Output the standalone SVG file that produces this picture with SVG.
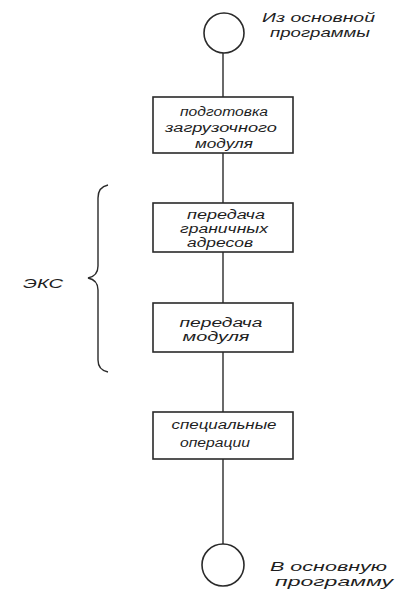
<svg xmlns="http://www.w3.org/2000/svg" width="404" height="594" viewBox="0 0 404 594">
<style>
.n{fill:#fff;stroke:#2a2a2a;stroke-width:1.6}
.c{fill:none;stroke:#2a2a2a;stroke-width:1.4}
.t{font-family:"Liberation Sans",Arial,sans-serif;font-style:italic;font-size:12px;fill:#1e1e1e;text-anchor:middle}
.l{font-family:"Liberation Sans",Arial,sans-serif;font-style:italic;font-size:13px;fill:#1e1e1e}
</style>
<rect width="404" height="594" fill="#fff"/>
<g id="connectors">
<line class="c" x1="223" y1="53" x2="223" y2="97"/>
<line class="c" x1="223" y1="153" x2="223" y2="203"/>
<line class="c" x1="223" y1="252" x2="223" y2="303"/>
<line class="c" x1="223" y1="352" x2="223" y2="412"/>
<line class="c" x1="223" y1="459" x2="223" y2="544"/>
</g>
<g id="start">
<circle class="n" cx="224" cy="33" r="20"/>
<text class="l" x="262" y="22" textLength="113" lengthAdjust="spacingAndGlyphs">Из основной</text>
<text class="l" x="270" y="37" textLength="100" lengthAdjust="spacingAndGlyphs">программы</text>
</g>
<g id="box1">
<rect class="n" x="153" y="97" width="140" height="56"/>
<text class="t" x="224" y="116" textLength="88" lengthAdjust="spacingAndGlyphs">подготовка</text>
<text class="t" x="221" y="132" textLength="112" lengthAdjust="spacingAndGlyphs">загрузочного</text>
<text class="t" x="224" y="148" textLength="58" lengthAdjust="spacingAndGlyphs">модуля</text>
</g>
<g id="box2">
<rect class="n" x="153" y="203" width="140" height="49"/>
<text class="t" x="226" y="219" textLength="78" lengthAdjust="spacingAndGlyphs">передача</text>
<text class="t" x="224" y="233" textLength="88" lengthAdjust="spacingAndGlyphs">граничных</text>
<text class="t" x="220" y="247" textLength="66" lengthAdjust="spacingAndGlyphs">адресов</text>
</g>
<g id="box3">
<rect class="n" x="153" y="303" width="140" height="49"/>
<text class="t" x="221" y="327" textLength="83" lengthAdjust="spacingAndGlyphs">передача</text>
<text class="t" x="216" y="341" textLength="67" lengthAdjust="spacingAndGlyphs">модуля</text>
</g>
<g id="box4">
<rect class="n" x="153" y="412" width="140" height="47"/>
<text class="t" x="224" y="429" textLength="105" lengthAdjust="spacingAndGlyphs">специальные</text>
<text class="t" x="215" y="447" textLength="70" lengthAdjust="spacingAndGlyphs">операции</text>
</g>
<g id="end">
<circle class="n" cx="223" cy="565" r="21"/>
<text class="l" x="270" y="571" textLength="117" lengthAdjust="spacingAndGlyphs">В основную</text>
<text class="l" x="275" y="586" textLength="118" lengthAdjust="spacingAndGlyphs">программу</text>
</g>
<g id="brace">
<path class="c" d="M108,185 Q98,187 98,198 L98,266 Q98,276 88,278 Q98,280 98,290 L98,360 Q98,370 108,372"/>
<text class="l" x="23" y="288" textLength="40" lengthAdjust="spacingAndGlyphs">ЭКС</text>
</g>
</svg>
